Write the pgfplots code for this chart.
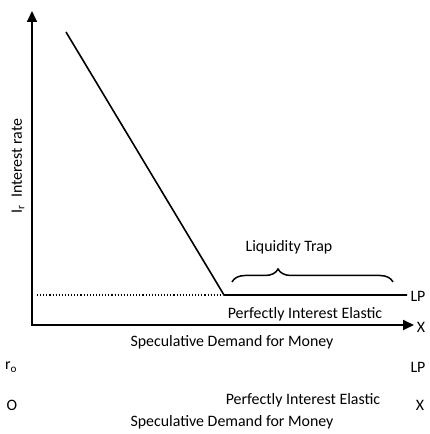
\documentclass[border=0pt]{standalone}
\usepackage{pgfplots}
\pgfplotsset{compat=1.18}
\usepackage{fontspec}
\setmainfont{Carlito}
\usetikzlibrary{arrows.meta,decorations.pathreplacing}
\tikzset{lbl/.style={font=\fontsize{15.9}{18}\selectfont}}
\begin{document}
\begin{tikzpicture}
\begin{axis}[
  width=429pt, height=434pt, scale only axis,
  xmin=0, xmax=429, ymin=0, ymax=434,
  axis lines=none, clip=false,
  /pgf/number format/assume math mode=true,
]
\path[use as bounding box] (rel axis cs:0,0) rectangle (rel axis cs:1,1);
% axes
\addplot[black, line width=1.8pt, -{Triangle[length=11pt,width=10pt]}] coordinates {(32,109) (32,423)};
\addplot[black, line width=1.8pt, -{Triangle[length=11pt,width=10pt]}] coordinates {(31.1,109) (414,109)};
% LP curve
\addplot[black, line width=1.6pt] coordinates {(66,402) (224,139) (407,139)};
% dotted
\addplot[black, line width=1.1pt, dotted] coordinates {(37,139) (222,139)};
% brace
\draw[black, line width=1.5pt, decorate, decoration={brace, amplitude=13pt, aspect=0.286}] (axis cs:232,152) -- (axis cs:393,152);
\node[lbl] at (axis cs:289,187) {Liquidity Trap};
\node[lbl] at (axis cs:305,120) {Perfectly Interest Elastic};
\node[lbl] at (axis cs:232,92) {Speculative Demand for Money};
\node[lbl] at (axis cs:418,138) {LP};
\node[lbl] at (axis cs:421,107) {X};
\node[lbl, rotate=90] at (axis cs:18,268) {I\textsubscript{r}\ \ Interest rate};
\node[lbl] at (axis cs:11,67) {r\textsubscript{o}};
\node[lbl] at (axis cs:418,67) {LP};
\node[lbl] at (axis cs:303,34) {Perfectly Interest Elastic};
\node[lbl] at (axis cs:12,29) {O};
\node[lbl] at (axis cs:420,29) {X};
\node[lbl] at (axis cs:232,12) {Speculative Demand for Money};
\end{axis}
\end{tikzpicture}
\end{document}
